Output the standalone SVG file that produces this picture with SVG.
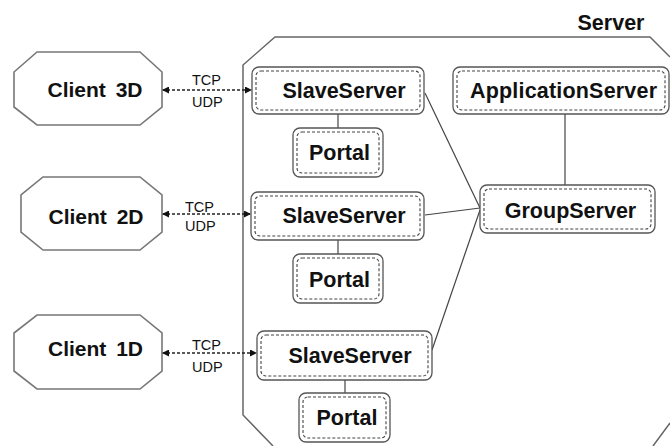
<svg xmlns="http://www.w3.org/2000/svg" width="670" height="446" viewBox="0 0 670 446">
<defs>
<style>
.oct{fill:#fff;stroke:#777;stroke-width:1.6}
.srv{fill:none;stroke:#666;stroke-width:1.5}
.outer{fill:#fff;stroke:#555;stroke-width:1.3}
.inner{fill:none;stroke:#444;stroke-width:1.1;stroke-dasharray:3 2}
.lbl{font-family:"Liberation Sans",Arial,sans-serif;font-weight:bold;font-size:21.5px;fill:#111;text-anchor:middle}
.cl{font-family:"Liberation Sans",Arial,sans-serif;font-weight:bold;font-size:21px;fill:#111;text-anchor:middle;word-spacing:4px}
.pr{font-family:"Liberation Sans",Arial,sans-serif;font-size:14.5px;fill:#111}
.ln{stroke:#444;stroke-width:1.2;fill:none}
.da{stroke:#222;stroke-width:1.3;fill:none;stroke-dasharray:3 2;marker-start:url(#ah);marker-end:url(#ah)}
</style>
<marker id="ah" viewBox="0 0 10 10" refX="10" refY="5" markerWidth="7" markerHeight="7" markerUnits="userSpaceOnUse" orient="auto-start-reverse">
<path d="M0,0 L10,5 L0,10 z" fill="#111"/>
</marker>
</defs>

<g id="server">
<path class="srv" d="M670,57 L650,37 L275,37 L243,65 L243,415 L273,446"/>
<path class="srv" d="M653,446 L670,423"/>
<text class="lbl" x="611" y="30">Server</text>
</g>

<g id="connectors">
<line class="da" x1="162" y1="90" x2="252" y2="90"/>
<line class="da" x1="162" y1="214" x2="251" y2="214"/>
<line class="da" x1="162" y1="353" x2="257" y2="353"/>
<line class="ln" x1="338" y1="114" x2="338" y2="128"/>
<line class="ln" x1="338" y1="240" x2="338" y2="254"/>
<line class="ln" x1="345" y1="380" x2="345" y2="393"/>
<line class="ln" x1="565" y1="114" x2="565" y2="185"/>
<line class="ln" x1="425" y1="93" x2="480" y2="208"/>
<line class="ln" x1="425" y1="215" x2="480" y2="208"/>
<line class="ln" x1="432" y1="350" x2="480" y2="210"/>
<text class="pr" x="192" y="85">TCP</text>
<text class="pr" x="192" y="107">UDP</text>
<text class="pr" x="185" y="212">TCP</text>
<text class="pr" x="185" y="231">UDP</text>
<text class="pr" x="192" y="350">TCP</text>
<text class="pr" x="192" y="372">UDP</text>
</g>

<g id="client3d">
<polygon class="oct" points="37,52 140,52 162,72 162,107 140,125 37,125 14,107 14,72"/>
<text class="cl" x="95" y="97">Client 3D</text>
</g>
<g id="client2d">
<polygon class="oct" points="43,177 140,177 162,195 162,232 140,250 43,250 21,232 21,195"/>
<text class="cl" x="96" y="224">Client 2D</text>
</g>
<g id="client1d">
<polygon class="oct" points="37,315 140,315 162,333 162,371 140,389 37,389 14,371 14,333"/>
<text class="cl" x="95.5" y="356">Client 1D</text>
</g>

<g id="slave1">
<rect class="outer" x="252" y="67" width="172" height="47" rx="7"/>
<rect class="inner" x="256" y="71" width="164" height="39" rx="5"/>
<text class="lbl" x="344" y="98">SlaveServer</text>
</g>
<g id="portal1">
<rect class="outer" x="293" y="128" width="90" height="49" rx="7"/>
<rect class="inner" x="297" y="132" width="82" height="41" rx="5"/>
<text class="lbl" x="339.5" y="160">Portal</text>
</g>
<g id="appserver">
<rect class="outer" x="453" y="67" width="216" height="47" rx="7"/>
<rect class="inner" x="457" y="71" width="208" height="39" rx="5"/>
<text class="lbl" x="563.5" y="98" textLength="187" lengthAdjust="spacing">ApplicationServer</text>
</g>
<g id="groupserver">
<rect class="outer" x="480" y="185" width="175" height="48" rx="7"/>
<rect class="inner" x="484" y="189" width="167" height="40" rx="5"/>
<text class="lbl" x="570.5" y="218">GroupServer</text>
</g>
<g id="slave2">
<rect class="outer" x="251" y="192" width="173" height="48" rx="7"/>
<rect class="inner" x="255" y="196" width="165" height="40" rx="5"/>
<text class="lbl" x="344" y="223">SlaveServer</text>
</g>
<g id="portal2">
<rect class="outer" x="293" y="254" width="90" height="49" rx="7"/>
<rect class="inner" x="297" y="258" width="82" height="41" rx="5"/>
<text class="lbl" x="339.5" y="287">Portal</text>
</g>
<g id="slave3">
<rect class="outer" x="257" y="331" width="175" height="49" rx="7"/>
<rect class="inner" x="261" y="335" width="167" height="41" rx="5"/>
<text class="lbl" x="350" y="363">SlaveServer</text>
</g>
<g id="portal3">
<rect class="outer" x="299" y="393" width="91" height="49" rx="7"/>
<rect class="inner" x="303" y="397" width="83" height="41" rx="5"/>
<text class="lbl" x="347" y="425">Portal</text>
</g>
</svg>
